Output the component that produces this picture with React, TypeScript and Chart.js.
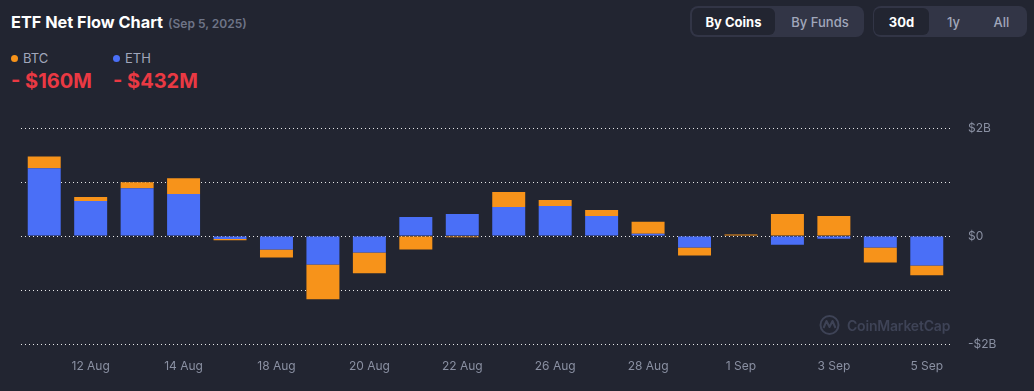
import React, { useEffect, useRef } from "react";
import { Chart, registerables } from "chart.js";

Chart.register(...registerables);

const dates = [
  "11 Aug", "12 Aug", "13 Aug", "14 Aug", "15 Aug", "18 Aug", "19 Aug", "20 Aug", "21 Aug", "22 Aug",
  "25 Aug", "26 Aug", "27 Aug", "28 Aug", "29 Aug", "1 Sep", "2 Sep", "3 Sep", "4 Sep", "5 Sep",
];
// net flow, millions USD
const ethFlow = [1253, 648, 886, 776, -55, -251, -527, -306, 354, 409, 538, 556, 372, 42, -215, 0, -160, -50, -215, -545];
const btcFlow = [220, 73, 110, 294, -26, -147, -642, -385, -251, -24, 275, 110, 110, 220, -147, 26, 409, 372, -275, -183];
const yTickLabels: Record<string, string> = { "2000": "$2B", "0": "$0", "-2000": "-$2B" };

const BG = "#222531";
const BLUE = "#4A6FF7";
const ORANGE = "#F7931A";
const RED = "#EA3943";
const FONT = "Inter, 'Noto Sans', sans-serif";

export default function App() {
  const ref = useRef<HTMLCanvasElement | null>(null);

  useEffect(() => {
    if (!ref.current) return;
    const chart = new Chart(ref.current, {
      type: "bar",
      data: {
        labels: dates,
        datasets: [
          { label: "ETH", data: ethFlow, backgroundColor: BLUE, borderWidth: 0, barPercentage: 0.71, categoryPercentage: 1 },
          { label: "BTC", data: btcFlow, backgroundColor: ORANGE, borderWidth: 0, barPercentage: 0.71, categoryPercentage: 1 },
        ],
      },
      options: {
        animation: false,
        responsive: false,
        maintainAspectRatio: false,
        layout: { padding: { left: 21, top: 27, right: 0, bottom: 0 } },
        plugins: { legend: { display: false }, tooltip: { enabled: false } },
        scales: {
          x: {
            stacked: true,
            grid: { display: false, drawTicks: false },
            border: { display: false },
            ticks: {
              autoSkip: false,
              maxRotation: 0,
              padding: 15,
              color: "#8A90A2",
              font: { family: FONT, size: 12 },
              callback: (_v: any, i: number) => (i % 2 === 1 ? dates[i] : ""),
            },
            afterFit: (s: any) => { s.height = 48; },
          },
          y: {
            stacked: true,
            position: "right",
            min: -2000,
            max: 2000,
            grid: { color: "rgba(255,255,255,0.9)", lineWidth: 1, drawTicks: false, borderDash: [1, 3] } as any,
            border: { display: false, dash: [1, 3] },
            ticks: {
              stepSize: 1000,
              padding: 18,
              color: "#8A90A2",
              font: { family: FONT, size: 12 },
              callback: (v: any) => yTickLabels[String(v)] ?? "",
            },
            afterFit: (s: any) => { s.width = 84; },
          },
        },
      },
    });
    return () => chart.destroy();
  }, []);

  const btn = (text: string, active: boolean, left: number, width: number) => (
    <div
      style={{
        position: "absolute", left, top: 2, width, height: 27, borderRadius: 6,
        background: active ? BG : "transparent", color: active ? "#FFFFFF" : "#A1A7BB",
        fontWeight: active ? 700 : 500, fontSize: 13, display: "flex", alignItems: "center", justifyContent: "center",
      }}
    >
      {text}
    </div>
  );

  return (
    <div style={{ position: "fixed", left: 0, top: 0, width: 1034, height: 391, background: BG, fontFamily: FONT, overflow: "hidden" }}>
      <div style={{ position: "absolute", left: 11, top: 12, whiteSpace: "nowrap" }}>
        <span style={{ color: "#FFFFFF", fontWeight: 700, fontSize: 16.3 }}>ETF Net Flow Chart</span>
        <span style={{ color: "#6E7487", fontWeight: 600, fontSize: 12, marginLeft: 5 }}>(Sep 5, 2025)</span>
      </div>

      {[
        { name: "BTC", color: ORANGE, value: "- $160M", left: 11 },
        { name: "ETH", color: BLUE, value: "- $432M", left: 113 },
      ].map((l) => (
        <div key={l.name} style={{ position: "absolute", left: l.left, top: 50, whiteSpace: "nowrap" }}>
          <div style={{ display: "flex", alignItems: "center", height: 16 }}>
            <span style={{ width: 7, height: 7, borderRadius: 4, background: l.color, display: "inline-block", marginRight: 5 }} />
            <span style={{ color: "#A1A7BB", fontSize: 13 }}>{l.name}</span>
          </div>
          <div style={{ color: RED, fontWeight: 700, fontSize: 20, marginTop: 3, lineHeight: "25px" }}>{l.value}</div>
        </div>
      ))}

      <div style={{ position: "absolute", left: 690, top: 6, width: 174, height: 31, borderRadius: 8, background: "#323546" }}>
        {btn("By Coins", true, 2, 83)}
        {btn("By Funds", false, 88, 84)}
      </div>
      <div style={{ position: "absolute", left: 873, top: 6, width: 154, height: 31, borderRadius: 8, background: "#323546" }}>
        {btn("30d", true, 1, 55)}
        {btn("1y", false, 58, 45)}
        {btn("All", false, 105, 47)}
      </div>

      <canvas ref={ref} width={1034} height={291} style={{ position: "absolute", left: 0, top: 101, width: 1034, height: 291 }} />

      <div style={{ position: "absolute", left: 819, top: 314, display: "flex", alignItems: "center", color: "#3E4356", pointerEvents: "none" }}>
        <svg width="21" height="22" viewBox="0 0 21 22" style={{ marginRight: 7 }}>
          <circle cx="10.5" cy="11" r="9" fill="none" stroke="#3E4356" strokeWidth="2" />
          <path d="M4.5 14 L7.5 7 L10.5 13 L13.5 7 L16.5 14" fill="none" stroke="#3E4356" strokeWidth="2" strokeLinejoin="round" />
        </svg>
        <span style={{ fontSize: 14, fontWeight: 600, letterSpacing: -0.2 }}>CoinMarketCap</span>
      </div>
    </div>
  );
}
